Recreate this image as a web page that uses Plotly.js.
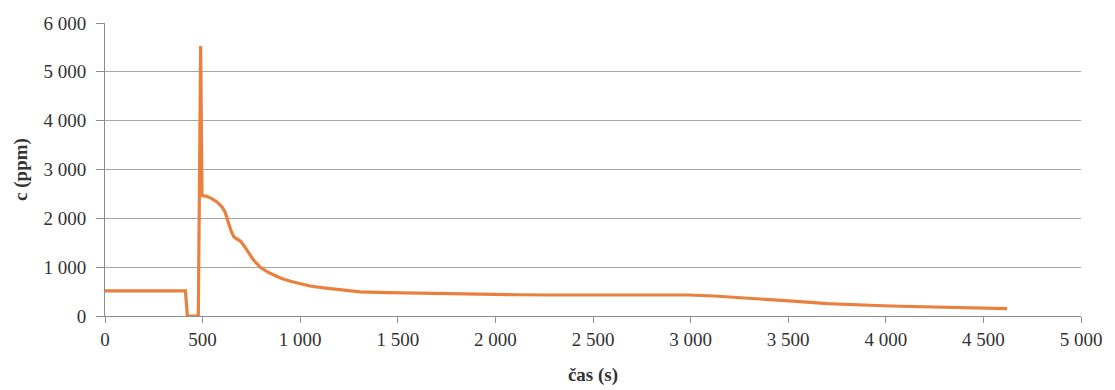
<!DOCTYPE html>
<html>
<head>
<meta charset="utf-8">
<script src="https://cdn.plot.ly/plotly-3.0.1.min.js"></script>
<style>html,body{margin:0;padding:0;background:#fff;}#chart{width:1115px;height:390px;}</style>
</head>
<body>
<div id="chart"></div>
<script>
const timeS = [0, 412, 422, 478, 490, 493, 497, 520, 545, 575, 600, 615, 628, 645, 660, 680, 695, 712, 730, 760, 795, 830, 865, 905, 950, 1000, 1050, 1120, 1189, 1250, 1306, 1450, 1614, 1800, 1921, 2100, 2280, 2600, 2990, 3120, 3253, 3400, 3560, 3700, 3817, 3950, 4073, 4300, 4621];
const concPpm = [515, 515, 0, 0, 5530, 2510, 2470, 2450, 2410, 2330, 2230, 2130, 1960, 1750, 1620, 1570, 1530, 1440, 1320, 1150, 1000, 910, 840, 770, 710, 660, 615, 575, 545, 515, 495, 480, 465, 450, 445, 435, 430, 430, 430, 410, 380, 340, 295, 255, 230, 215, 200, 180, 150];
const xTicks = [0, 500, 1000, 1500, 2000, 2500, 3000, 3500, 4000, 4500, 5000];
const yTicks = [0, 1000, 2000, 3000, 4000, 5000, 6000];
const xTitle = "čas (s)";
const yTitle = "c (ppm)";

const font = {family: "Liberation Serif, Times New Roman, serif", size: 19, color: "#333"};
Plotly.newPlot("chart", [{
  x: timeS, y: concPpm, type: "scatter", mode: "lines",
  line: {color: "#E9803E", width: 3.2, shape: "linear"}, hoverinfo: "skip"
}], {
  width: 1115, height: 390,
  margin: {l: 105, r: 34, t: 23, b: 74},
  paper_bgcolor: "#fff", plot_bgcolor: "#fff",
  separators: ". ",
  showlegend: false,
  font: font,
  xaxis: {
    range: [0, 5000], tickvals: xTicks, tickformat: ",d",
    showgrid: false, zeroline: false,
    showline: true, linecolor: "#8c8c8c", linewidth: 1,
    ticks: "outside", ticklen: 6, tickcolor: "#8c8c8c",
    tickfont: font,
    title: {text: xTitle, font: {family: font.family, size: 19, color: "#333", weight: "bold"}, standoff: 18}
  },
  yaxis: {
    range: [0, 6000], tickvals: yTicks, tickformat: ",d",
    showgrid: true, gridcolor: "#a6a6a6", gridwidth: 1,
    zeroline: false,
    showline: true, linecolor: "#8c8c8c", linewidth: 1,
    ticks: "outside", ticklen: 8, tickcolor: "#8c8c8c",
    ticklabelstandoff: 6,
    tickfont: font,
    title: {text: yTitle, font: {family: font.family, size: 19, color: "#333", weight: "bold"}, standoff: 10}
  }
}, {staticPlot: true});
</script>
</body>
</html>
